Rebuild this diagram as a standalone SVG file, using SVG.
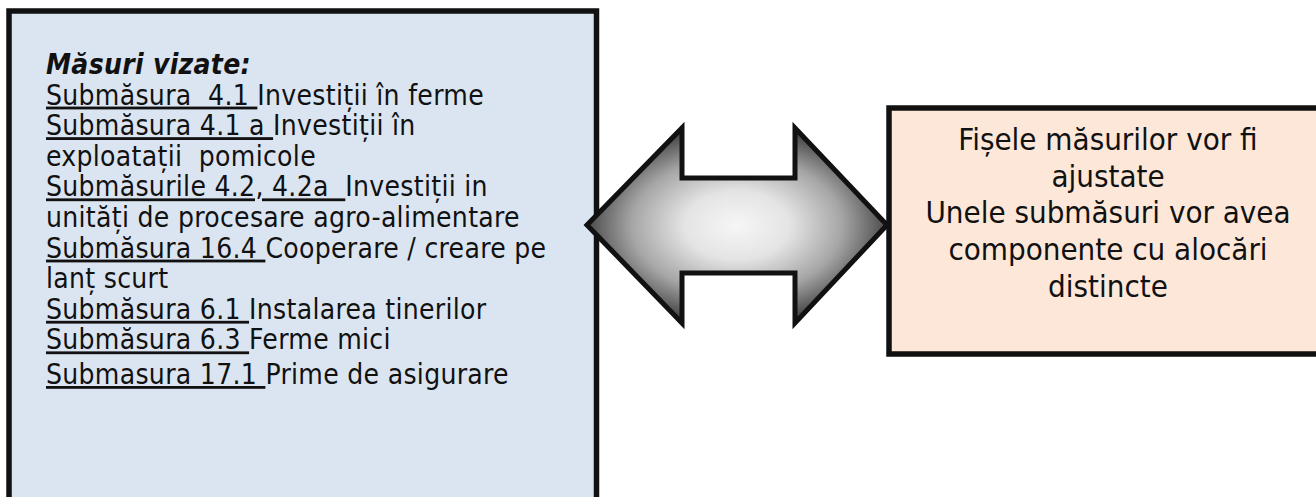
<svg xmlns="http://www.w3.org/2000/svg" width="1316" height="497" viewBox="0 0 1316 497">
  <defs>
    <radialGradient id="arrowGrad" cx="0.5" cy="0.5" r="0.5">
      <stop offset="0" stop-color="#f6f6f6"/>
      <stop offset="0.35" stop-color="#e4e4e4"/>
      <stop offset="0.7" stop-color="#a6a6a6"/>
      <stop offset="1" stop-color="#4a4a4a"/>
    </radialGradient>
  </defs>
  <style>
    .box { stroke: #111; stroke-width: 5.5; }
    .lt { font-family: "DejaVu Sans Condensed", "DejaVu Sans", sans-serif; font-stretch: condensed; font-size: 28px; letter-spacing: 0.3px; fill: #111; }
    .rt { font-family: "DejaVu Sans Condensed", "DejaVu Sans", sans-serif; font-stretch: condensed; font-size: 31px; fill: #111; text-anchor: middle; }
    .u { text-decoration: underline; }
    .hd { font-weight: bold; font-style: italic; }
  </style>
  <rect width="1316" height="497" fill="#ffffff"/>

  <g id="node-masuri">
    <rect class="box" x="9" y="11" width="587.5" height="520" fill="#dbe5f1"/>
    <text class="lt hd" x="46" y="74" xml:space="preserve">Măsuri vizate:</text>
    <text class="lt" x="46" y="104.6" xml:space="preserve"><tspan class="u">Submăsura  4.1 </tspan>Investiții în ferme</text>
    <text class="lt" x="46" y="135.2" xml:space="preserve"><tspan class="u">Submăsura 4.1 a </tspan>Investiții în</text>
    <text class="lt" x="46" y="165.8" xml:space="preserve">exploatații  pomicole</text>
    <text class="lt" x="46" y="196.4" xml:space="preserve"><tspan class="u">Submăsurile 4.2, 4.2a  </tspan>Investiții in</text>
    <text class="lt" x="46" y="227" xml:space="preserve">unități de procesare agro-alimentare</text>
    <text class="lt" x="46" y="257.6" xml:space="preserve"><tspan class="u">Submăsura 16.4 </tspan>Cooperare / creare pe</text>
    <text class="lt" x="46" y="288.2" xml:space="preserve">lanț scurt</text>
    <text class="lt" x="46" y="318.8" xml:space="preserve"><tspan class="u">Submăsura 6.1 </tspan>Instalarea tinerilor</text>
    <text class="lt" x="46" y="349.4" xml:space="preserve"><tspan class="u">Submăsura 6.3 </tspan>Ferme mici</text>
    <text class="lt" x="46" y="384" xml:space="preserve"><tspan class="u">Submasura 17.1 </tspan>Prime de asigurare</text>
  </g>

  <g id="node-fise">
    <rect class="box" x="889" y="108" width="460" height="246" fill="#fce7d9"/>
    <text class="rt" x="1108" y="150">Fișele măsurilor vor fi</text>
    <text class="rt" x="1108" y="187">ajustate</text>
    <text class="rt" x="1108" y="223">Unele submăsuri vor avea</text>
    <text class="rt" x="1108" y="260">componente cu alocări</text>
    <text class="rt" x="1108" y="297">distincte</text>
  </g>

  <g id="connectors">
    <polygon points="587,225 682,128 682,178 795,178 795,128 887,225 795,323 795,273 682,273 682,323" fill="url(#arrowGrad)" stroke="#111" stroke-width="5" stroke-linejoin="miter"/>
  </g>
</svg>
